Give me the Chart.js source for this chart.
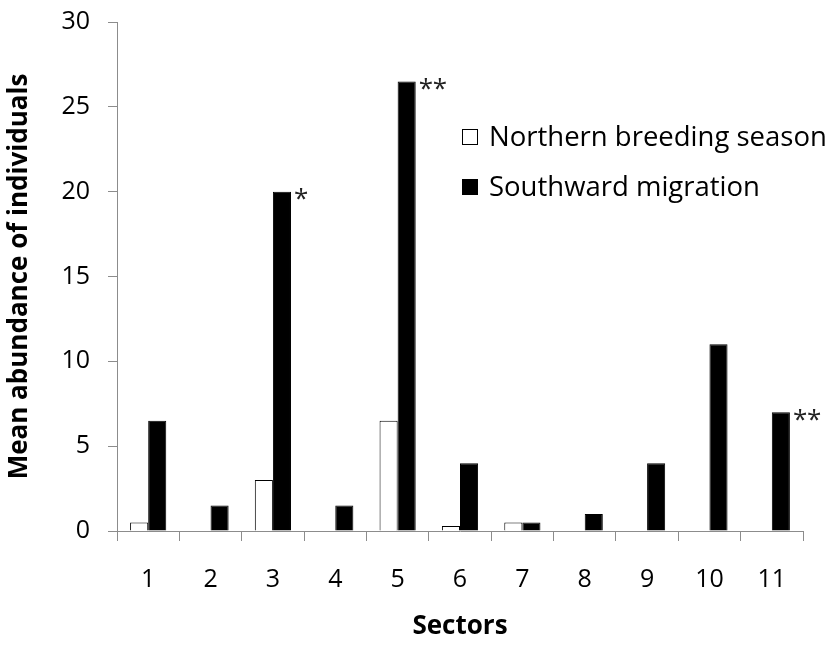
<!DOCTYPE html>
<html>
<head>
<meta charset="utf-8">
<script src="https://cdn.jsdelivr.net/npm/chart.js@4"></script>
<style>
  html, body { margin: 0; padding: 0; background: #fff; }
  #wrap { width: 833px; height: 646px; }
</style>
</head>
<body>
<div id="wrap"><canvas id="c"></canvas></div>
<script>
const sectors = ['1', '2', '3', '4', '5', '6', '7', '8', '9', '10', '11'];
const northernBreeding = [0.5, 0, 3, 0, 6.5, 0.3, 0.5, 0, 0, 0, 0];
const southwardMigration = [6.5, 1.5, 20, 1.5, 26.5, 4, 0.5, 1, 4, 11, 7];
const significance = ['', '', '*', '', '**', '', '', '', '', '', '**'];
const yTicks = [0, 5, 10, 15, 20, 25, 30];

const FONT = '"Open Sans", sans-serif';
const AXIS_GREY = '#8c8c8c';

// stars drawn right of the southward bars
const starsPlugin = {
    id: 'stars',
    afterDatasetsDraw(chart) {
        const ctx = chart.ctx;
        const meta = chart.getDatasetMeta(1);
        ctx.save();
        ctx.fillStyle = '#222';
        ctx.font = '26px ' + FONT;
        ctx.textAlign = 'left';
        ctx.textBaseline = 'top';
        significance.forEach((s, i) => {
            if (!s) return;
            const bar = meta.data[i];
            let x = bar.x + bar.width / 2 + 3;
            for (const ch of s) {
                ctx.fillText(ch, x, bar.y - 5);
                x += 14;
            }
        });
        ctx.restore();
    }
};

// legend inside the plot, top right
const legendPlugin = {
    id: 'insideLegend',
    afterDraw(chart) {
        const ctx = chart.ctx;
        ctx.save();
        ctx.font = '27.5px ' + FONT;
        ctx.textBaseline = 'middle';
        chart.data.datasets.forEach((ds, i) => {
            const y = 137 + i * 50;
            ctx.fillStyle = ds.backgroundColor;
            ctx.fillRect(462, y - 8, 16, 16);
            ctx.strokeStyle = '#000';
            ctx.lineWidth = 1;
            ctx.strokeRect(462.5, y - 7.5, 15, 15);
            ctx.fillStyle = '#000';
            ctx.fillText(ds.label, 489, y + 1);
        });
        ctx.restore();
    }
};

new Chart(document.getElementById('c'), {
    type: 'bar',
    data: {
        labels: sectors,
        datasets: [{
            label: 'Northern breeding season',
            data: northernBreeding,
            backgroundColor: '#ffffff',
            borderColor: '#000000',
            borderWidth: 1
        }, {
            label: 'Southward migration',
            data: southwardMigration,
            backgroundColor: '#000000',
            borderColor: '#000000',
            borderWidth: 1
        }]
    },
    options: {
        responsive: true,
        maintainAspectRatio: false,
        animation: false,
        layout: { padding: { top: 22, right: 30, left: 0, bottom: 0 } },
        datasets: { bar: { categoryPercentage: 0.58, barPercentage: 1 } },
        plugins: { legend: { display: false }, tooltip: { enabled: false } },
        scales: {
            x: {
                grid: { display: true, drawOnChartArea: false, offset: true, color: AXIS_GREY, tickLength: 10 },
                border: { color: AXIS_GREY, width: 1 },
                ticks: { color: '#000', font: { family: FONT, size: 25 }, padding: 24, maxRotation: 0 },
                title: { display: true, text: 'Sectors', color: '#000', font: { family: FONT, size: 26, weight: 'bold' }, padding: { top: 8 } },
                afterFit: scale => { scale.height = 115; scale.paddingLeft = 0; scale.paddingRight = 0; }
            },
            y: {
                min: 0, max: 30,
                afterBuildTicks: scale => { scale.ticks = yTicks.map(v => ({ value: v })); },
                grid: { display: true, drawOnChartArea: false, color: AXIS_GREY, tickLength: 9 },
                border: { color: AXIS_GREY, width: 1 },
                ticks: { color: '#000', font: { family: FONT, size: 25 }, padding: 18 },
                title: { display: true, text: 'Mean abundance of individuals', color: '#000', font: { family: FONT, size: 26, weight: 'bold' }, padding: { bottom: 4 } },
                afterFit: scale => { scale.width = 117; scale.paddingTop = 0; scale.paddingBottom = 0; }
            }
        }
    },
    plugins: [starsPlugin, legendPlugin]
});
</script>
</body>
</html>
